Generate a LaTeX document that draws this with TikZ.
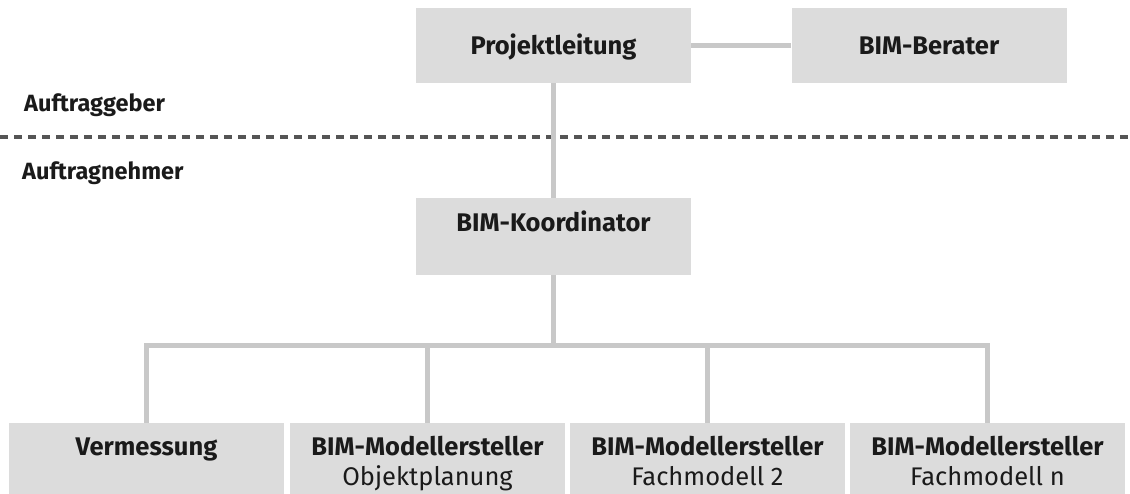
\documentclass[tikz,border=0pt]{standalone}
\usepackage{fontspec}
\setmainfont{Fira Sans}
\definecolor{boxgray}{HTML}{DCDCDC}
\definecolor{linegray}{HTML}{C8C8C8}
\definecolor{dashgray}{HTML}{555555}
\definecolor{txt}{HTML}{1A1A1A}
\begin{document}
\begin{tikzpicture}[x=1pt,y=-1pt,
  box/.style={fill=boxgray, draw=none, inner sep=0pt, minimum width=275pt},
  toplbl/.style={text=txt, inner sep=0pt, anchor=base, font=\bfseries\fontsize{25.5}{30}\selectfont},
  sublbl/.style={text=txt, inner sep=0pt, anchor=base, font=\fontsize{25.5}{30}\selectfont},
  sidelbl/.style={text=txt, inner sep=0pt, anchor=base west, font=\bfseries\fontsize{23.5}{28}\selectfont},
  conn/.style={draw=linegray, line width=5pt},
  dashline/.style={draw=dashgray, line width=3.5pt, dash pattern=on 8pt off 6pt}]
\useasboundingbox (0,0) rectangle (1130,494);
% dashed separator
\coordinate (dl) at (0,137);
\coordinate (dr) at (1130,137);
\draw[dashline] (dl) -- (dr);
\node[sidelbl] (ag) at (24,112) {Auftraggeber};
\node[sidelbl] (an) at (22,180) {Auftragnehmer};
% boxes
\node[box, minimum height=75pt] (pl) at (553.5,45.5) {};
\node[box, minimum height=75pt] (bb) at (929,45.5) {};
\node[box, minimum height=77pt] (ko) at (553.5,236.5) {};
\node[box, minimum height=71pt] (b1) at (146.5,458.5) {};
\node[box, minimum height=71pt] (b2) at (427.5,458.5) {};
\node[box, minimum height=71pt] (b3) at (707.5,458.5) {};
\node[box, minimum height=71pt] (b4) at (987.5,458.5) {};
% connectors
\coordinate (bar) at (553.5,346);
\draw[conn] (pl.east) -- (bb.west);
\draw[conn] (pl.south) -- (ko.north);
\draw[conn] (ko.south) -- (bar);
\draw[conn] (b1.north) |- (bar) -| (b4.north);
\draw[conn] (b2.north) -- (b2.north |- bar);
\draw[conn] (b3.north) -- (b3.north |- bar);
% labels
\node[toplbl] (plt) at (553.5,55) {Projektleitung};
\node[toplbl] (bbt) at (929,55) {BIM-Berater};
\node[toplbl] (kot) at (553.5,232) {BIM-Koordinator};
\node[toplbl] (b1t) at (146.5,455) {Vermessung};
\node[toplbl] (b2t) at (427.5,455) {BIM-Modellersteller};
\node[sublbl] (b2s) at (427.5,485) {Objektplanung};
\node[toplbl] (b3t) at (707.5,455) {BIM-Modellersteller};
\node[sublbl] (b3s) at (707.5,485) {Fachmodell 2};
\node[toplbl] (b4t) at (987.5,455) {BIM-Modellersteller};
\node[sublbl] (b4s) at (987.5,485) {Fachmodell n};
\end{tikzpicture}
\end{document}
